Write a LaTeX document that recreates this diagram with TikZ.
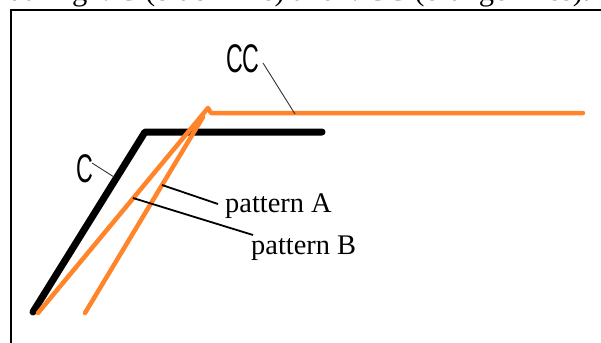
\documentclass[tikz,border=0pt]{standalone}
\usepackage{fontspec}
\setmainfont{Liberation Serif}
\newfontfamily\narrowsans{Liberation Sans}
\definecolor{vccorange}{RGB}{255,132,42}
\tikzset{
  blackline/.style={line width=7pt, black, line cap=round, line join=round},
  orangeline/.style={line width=4.5pt, vccorange, line cap=round, line join=round},
  thinleader/.style={line width=0.9pt, black!80},
  leader/.style={line width=1.8pt, black},
  serlabel/.style={inner sep=0pt, font=\fontsize{28.4}{30}\selectfont, anchor=base west},
  curvelabel/.style={inner sep=0pt, font=\narrowsans\fontsize{40}{42}\selectfont, xscale=0.58, anchor=base west},
  frameline/.style={line width=2.2pt, black}
}
\begin{document}
\begin{tikzpicture}[x=1pt, y=-1pt]
\clip (0,0) rectangle (601,342);
\fill[white] (0,0) rectangle (601,342);
% caption (cut off at top)
\node[inner sep=0pt, font=\fontsize{30.5}{32}\selectfont, anchor=base west] (cap) at (7.6,0.5) {during VC (black line) and VCC (orange lines).};
% frame
\draw[frameline] (10.7,345) -- (10.7,10.3) -- (605,10.3);
% black curve C
\coordinate (b0) at (33,312);
\coordinate (b1) at (145,132);
\coordinate (b2) at (322,132);
\draw[blackline] (b0) -- (b1) -- (b2);
% orange curves
\coordinate (o0) at (38,313);
\coordinate (o1) at (208,108);
\coordinate (o2) at (211,113);
\coordinate (o3) at (583,113);
\draw[orangeline] (o0) -- (o1) -- (o2) -- (o3);
\coordinate (p0) at (85,313);
\coordinate (p1) at (203,117);
\draw[orangeline] (p0) -- (p1);
% labels
\node[curvelabel] (C) at (76,182) {C};
\node[curvelabel] (CC) at (226,72.5) {CC};
\node[serlabel] (pA) at (225,212) {pattern A};
\node[serlabel] (pB) at (251,254) {pattern B};
% leaders
\coordinate (cLeadS) at (92,163);
\coordinate (cLeadE) at (114,177);
\draw[thinleader] (cLeadS) -- (cLeadE);
\coordinate (ccLeadS) at (263,63);
\coordinate (ccLeadE) at (295,114);
\draw[thinleader] (ccLeadS) -- (ccLeadE);
\coordinate (aLeadS) at (162,185);
\coordinate (aLeadE) at (218,204);
\draw[leader] (aLeadS) -- (aLeadE);
\coordinate (bLeadS) at (133,198);
\coordinate (bLeadE) at (253,235);
\draw[leader] (bLeadS) -- (bLeadE);
\end{tikzpicture}
\end{document}
